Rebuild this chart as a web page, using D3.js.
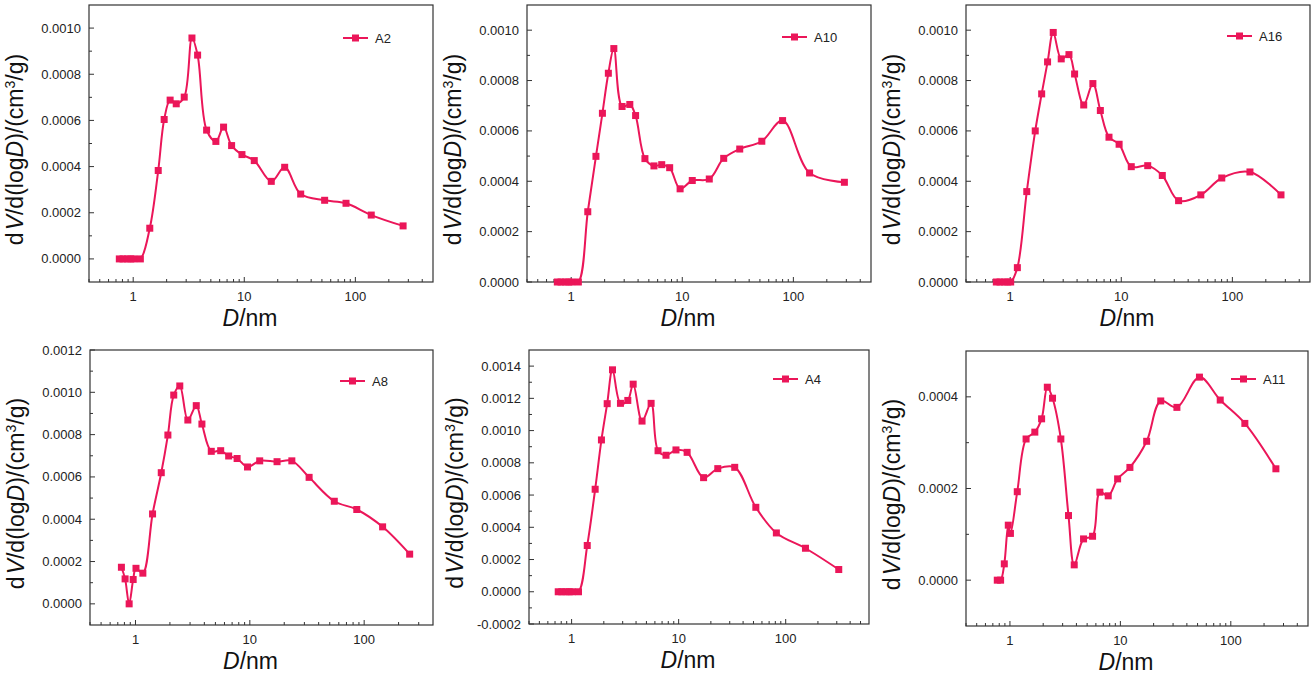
<!DOCTYPE html>
<html><head><meta charset="utf-8">
<script src="https://cdn.jsdelivr.net/npm/d3@7"></script>
<style>
body{margin:0;background:#fff}
text{font-family:Arial,"Liberation Sans",sans-serif}
</style>
</head><body>
<svg id="chart" width="1315" height="676"></svg>
<script>
// ---------------- DATA ----------------
const A2_D  = [0.75,0.81,0.88,0.95,1.01,1.16,1.41,1.68,1.90,2.15,2.44,2.88,3.38,3.80,4.58,5.55,6.51,7.69,9.53,12.3,17.5,23.1,32.2,52.9,82.4,139,269];
const A2_V  = [0,0,0,0,0,0,0.000133,0.000383,0.000604,0.000688,0.000672,0.000701,0.000957,0.000883,0.000558,0.000509,0.000571,0.000491,0.000452,0.000426,0.000336,0.000397,0.000281,0.000254,0.000241,0.000190,0.000143];

const A10_D = [0.75,0.81,0.88,0.95,1.01,1.16,1.41,1.67,1.91,2.16,2.42,2.87,3.37,3.80,4.61,5.56,6.53,7.70,9.56,12.3,17.5,23.6,32.9,52,80,140,288];
const A10_V = [0,0,0,0,0,0,0.000279,0.000499,0.000670,0.000829,0.000927,0.000697,0.000705,0.000661,0.000490,0.000461,0.000466,0.000454,0.000370,0.000403,0.000409,0.000491,0.000528,0.000559,0.000641,0.000433,0.000396];

const A16_D = [0.75,0.81,0.88,0.95,1.01,1.16,1.41,1.68,1.92,2.17,2.44,2.88,3.38,3.80,4.59,5.55,6.48,7.75,9.56,12.3,17.3,23.4,32.8,52,80.3,144,274];
const A16_V = [0,0,0,0,0,0.000057,0.000359,0.000600,0.000747,0.000874,0.000991,0.000886,0.000903,0.000826,0.000703,0.000788,0.000681,0.000575,0.000547,0.000458,0.000462,0.000423,0.000323,0.000346,0.000413,0.000437,0.000346];

const A8_D  = [0.753,0.811,0.88,0.954,1.01,1.16,1.41,1.68,1.92,2.16,2.44,2.87,3.40,3.81,4.60,5.56,6.53,7.74,9.54,12.2,17.3,23.3,33.0,54.8,86.2,145,250];
const A8_V  = [0.000173,0.000118,0,0.000115,0.000168,0.000145,0.000425,0.000620,0.000798,0.000987,0.001030,0.000869,0.000937,0.000850,0.000721,0.000724,0.000699,0.000687,0.000647,0.000676,0.000672,0.000676,0.000598,0.000485,0.000446,0.000364,0.000235];

const A4_D  = [0.75,0.81,0.88,0.95,1.01,1.16,1.40,1.66,1.90,2.15,2.41,2.86,3.35,3.76,4.55,5.53,6.42,7.62,9.44,12.0,17.1,23.2,33.4,52.6,81.8,153,313];
const A4_V  = [0,0,0,0,0,0,0.000287,0.000636,0.000942,0.001167,0.001377,0.001169,0.001187,0.001288,0.001059,0.001169,0.000875,0.000847,0.000880,0.000865,0.000708,0.000764,0.000772,0.000524,0.000365,0.000270,0.000138];

const A11_D = [0.768,0.823,0.889,0.966,1.01,1.165,1.40,1.68,1.935,2.18,2.43,2.89,3.39,3.82,4.64,5.60,6.52,7.76,9.44,12.2,17.3,23.2,32.5,52.0,80.2,134,256];
const A11_V = [0,0,0.0000356,0.000120,0.000102,0.000193,0.000308,0.000323,0.000352,0.000421,0.000397,0.000308,0.000141,0.0000334,0.0000900,0.0000958,0.000192,0.000184,0.000221,0.000246,0.000303,0.000391,0.000377,0.000443,0.000393,0.000342,0.000243];

// tick values / labels
const xMajorTicks = [1, 10, 100];
const xMajorLabels = ["1", "10", "100"];
const yTicks_0_10   = [0, 0.0002, 0.0004, 0.0006, 0.0008, 0.0010];
const yLabels_0_10  = ["0.0000","0.0002","0.0004","0.0006","0.0008","0.0010"];
const yTicks_0_12   = [0, 0.0002, 0.0004, 0.0006, 0.0008, 0.0010, 0.0012];
const yLabels_0_12  = ["0.0000","0.0002","0.0004","0.0006","0.0008","0.0010","0.0012"];
const yTicks_m2_14  = [-0.0002, 0, 0.0002, 0.0004, 0.0006, 0.0008, 0.0010, 0.0012, 0.0014];
const yLabels_m2_14 = ["-0.0002","0.0000","0.0002","0.0004","0.0006","0.0008","0.0010","0.0012","0.0014"];
const yTicks_0_4    = [0, 0.0002, 0.0004];
const yLabels_0_4   = ["0.0000","0.0002","0.0004"];

// ---------------- LAYOUT ----------------
const COLOR = "#EB1659";
const panels = [
  {name:"A2",  D:A2_D,  V:A2_V,  x:[0.4,500], y:[-0.0001,0.0011], yt:yTicks_0_10,  yl:yLabels_0_10,  box:[89,5,433,282],    leg:[90,33]},
  {name:"A10", D:A10_D, V:A10_V, x:[0.4,500], y:[0,0.0011],       yt:yTicks_0_10,  yl:yLabels_0_10,  box:[527,5,871,282],   leg:[89,32]},
  {name:"A16", D:A16_D, V:A16_V, x:[0.4,500], y:[0,0.0011],       yt:yTicks_0_10,  yl:yLabels_0_10,  box:[966,5,1310,282],  leg:[83,31]},
  {name:"A8",  D:A8_D,  V:A8_V,  x:[0.4,400], y:[-0.0001,0.0012], yt:yTicks_0_12,  yl:yLabels_0_12,  box:[90,350,433,625],  leg:[93,31]},
  {name:"A4",  D:A4_D,  V:A4_V,  x:[0.4,600], y:[-0.0002,0.0015], yt:yTicks_m2_14, yl:yLabels_m2_14, box:[529,350,869,624], leg:[96,29]},
  {name:"A11", D:A11_D, V:A11_V, x:[0.4,500], y:[-0.0001,0.0005], yt:yTicks_0_4,   yl:yLabels_0_4,   box:[966,351,1308,626],leg:[77,28]}
];

const svg = d3.select("#chart");

panels.forEach(p => {
  const [l,t,r,b] = p.box;
  const xs = d3.scaleLog().domain(p.x).range([l,r]);
  const ys = d3.scaleLinear().domain(p.y).range([b,t]);
  const g = svg.append("g");

  // frame
  g.append("rect").attr("x",l).attr("y",t).attr("width",r-l).attr("height",b-t)
    .attr("fill","none").attr("stroke","#333").attr("stroke-width",1.2);

  // y ticks (major + minor)
  const step = p.yt[1]-p.yt[0];
  p.yt.forEach((v,i) => {
    const yy = ys(v);
    g.append("line").attr("x1",l).attr("x2",l+5).attr("y1",yy).attr("y2",yy).attr("stroke","#333").attr("stroke-width",1);
    g.append("text").attr("x",l-8).attr("y",yy).attr("dy","0.35em").attr("text-anchor","end")
      .attr("font-size",13).attr("fill","#222").text(p.yl[i]);
    const m = v + step/2;
    if (m > p.y[0] && m < p.y[1]) {
      const my = ys(m);
      g.append("line").attr("x1",l).attr("x2",l+3).attr("y1",my).attr("y2",my).attr("stroke","#333").attr("stroke-width",1);
    }
    const m2 = v - step/2;
    if (i===0 && m2 > p.y[0]) {
      const my = ys(m2);
      g.append("line").attr("x1",l).attr("x2",l+3).attr("y1",my).attr("y2",my).attr("stroke","#333").attr("stroke-width",1);
    }
  });

  // x ticks
  xMajorTicks.forEach((v,i) => {
    const xx = xs(v);
    g.append("line").attr("x1",xx).attr("x2",xx).attr("y1",b).attr("y2",b-5).attr("stroke","#333").attr("stroke-width",1);
    g.append("text").attr("x",xx).attr("y",b+19).attr("text-anchor","middle")
      .attr("font-size",13).attr("fill","#222").text(xMajorLabels[i]);
  });
  [0.1,1,10,100].forEach(dec => {
    for (let k=2;k<=9;k++){
      const v = dec*k;
      if (v > p.x[0]*0.999 && v < p.x[1]) {
        const xx = xs(v);
        g.append("line").attr("x1",xx).attr("x2",xx).attr("y1",b).attr("y2",b-3).attr("stroke","#333").attr("stroke-width",1);
      }
    }
  });

  // y axis title
  const cy = (t+b)/2 + 6;
  const cx = l - 66;
  const yt = g.append("text").attr("transform",`translate(${cx},${cy}) rotate(-90)`)
    .attr("text-anchor","middle").attr("font-size",23).attr("fill","#111");
  yt.append("tspan").text("d");
  yt.append("tspan").attr("dx",2).attr("font-style","italic").text("V");
  yt.append("tspan").text("/d(log");
  yt.append("tspan").attr("font-style","italic").text("D");
  yt.append("tspan").text(")/(cm");
  yt.append("tspan").attr("font-size",14).attr("dy",-8).text("3");
  yt.append("tspan").attr("dy",8).text("/g)");

  // x axis title
  const xt = g.append("text").attr("x",(l+r)/2 - 11).attr("y",b+44).attr("text-anchor","middle")
    .attr("font-size",23).attr("fill","#111");
  xt.append("tspan").attr("font-style","italic").text("D");
  xt.append("tspan").text("/nm");

  // data line
  const data = p.D.map((d,i)=>({d, v:p.V[i]}));
  const line = d3.line().x(d=>xs(d.d)).y(d=>ys(d.v)).curve(d3.curveCatmullRom.alpha(0.5));
  g.append("path").datum(data).attr("d",line).attr("fill","none").attr("stroke",COLOR).attr("stroke-width",2);
  g.selectAll(null).data(data).enter().append("rect")
    .attr("x",d=>xs(d.d)-3.5).attr("y",d=>ys(d.v)-3.5).attr("width",7).attr("height",7).attr("fill",COLOR);

  // legend
  const lx = r - p.leg[0], ly = t + p.leg[1];
  g.append("line").attr("x1",lx).attr("x2",lx+25).attr("y1",ly).attr("y2",ly).attr("stroke",COLOR).attr("stroke-width",2);
  g.append("rect").attr("x",lx+12.5-3.5).attr("y",ly-3.5).attr("width",7).attr("height",7).attr("fill",COLOR);
  g.append("text").attr("x",lx+32).attr("y",ly).attr("dy","0.36em").attr("font-size",13).attr("fill","#222").text(p.name);
});
</script>
</body></html>
